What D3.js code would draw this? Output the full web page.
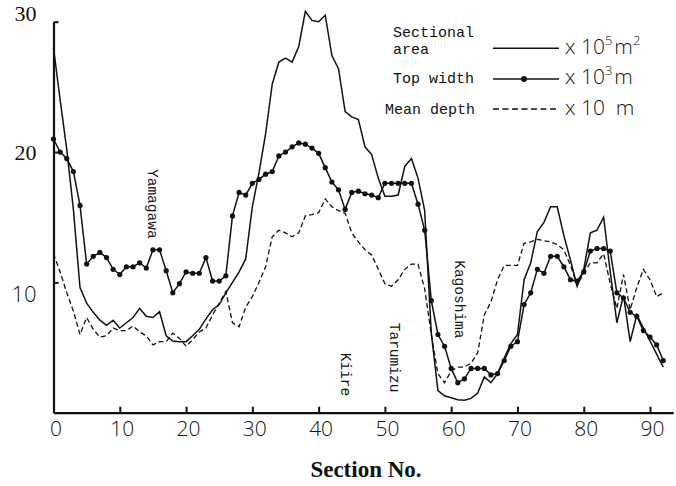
<!DOCTYPE html>
<html>
<head>
<meta charset="utf-8">
<script src="https://cdn.jsdelivr.net/npm/d3@7"></script>
<style>
  html, body { margin: 0; padding: 0; background: #fff; }
  svg { display: block; }
</style>
</head>
<body>
<svg id="chart" width="676" height="486"></svg>
<script>
// ---- Data (section numbers 0..92) ----
const sections = d3.range(0, 93);

// Sectional area (x 10^5 m^2) — solid line
const sectionalArea = [
  28.0, 24.0, 20.2, 15.6, 9.6, 8.4, 7.7, 7.1, 6.7, 7.1,
  6.5, 6.9, 7.3, 8.0, 7.4, 7.3, 7.75, 5.9, 5.5, 5.45,
  5.45, 5.9, 6.4, 7.2, 7.9, 8.3, 9.2, 10.0, 10.8, 11.8,
  15.8, 18.4, 21.4, 25.2, 26.9, 27.2, 26.9, 28.1, 30.8, 30.1,
  30.0, 30.5, 27.4, 26.4, 23.1, 22.7, 22.5, 20.4, 19.8, 18.0,
  16.6, 16.6, 16.7, 18.9, 19.5, 18.0, 15.5, 6.1, 1.7, 1.3,
  1.15, 1.0, 0.95, 1.1, 1.5, 2.75, 2.3, 3.0, 4.2, 5.3,
  6.0, 10.2, 11.5, 13.9, 14.6, 15.8, 15.8, 13.6, 11.7, 9.7,
  11.0, 13.8, 14.0, 15.0, 10.8, 6.9, 9.0, 5.45, 7.5, 6.5,
  5.5, 4.5, 3.5
];

// Top width (x 10^3 m) — line with dots
const topWidth = [
  21.0, 20.0, 19.5, 18.5, 15.9, 11.4, 12.0, 12.3, 11.9, 11.0,
  10.6, 11.2, 11.2, 11.5, 11.1, 12.5, 12.5, 10.9, 9.2, 9.9,
  10.8, 10.7, 10.7, 11.9, 10.1, 10.1, 10.5, 15.1, 16.9, 16.7,
  17.6, 17.9, 18.3, 18.5, 19.7, 20.0, 20.4, 20.7, 20.6, 20.3,
  19.9, 18.8, 17.7, 17.1, 15.6, 16.9, 17.0, 16.8, 16.7, 16.5,
  17.6, 17.6, 17.6, 17.6, 17.6, 16.0, 14.0, 8.6, 6.0, 5.1,
  3.4, 2.3, 2.6, 3.4, 3.4, 3.4, 2.9, 3.0, 4.0, 5.1,
  5.45, 8.3, 9.2, 11.0, 10.7, 12.0, 12.0, 11.2, 10.2, 10.1,
  10.8, 12.4, 12.6, 12.6, 12.4, 9.2, 8.8, 7.7, 7.4, 6.3,
  5.8, 5.2, 4.0
];

// Mean depth (x 10 m) — dashed line
const meanDepth = [
  12.2, 10.8, 9.2, 7.8, 6.0, 7.3, 6.4, 5.8, 5.9, 6.5,
  6.3, 6.3, 6.65, 6.2, 5.9, 5.2, 5.45, 5.45, 6.1, 5.7,
  5.1, 5.6, 6.2, 6.5, 7.5, 8.4, 9.3, 6.9, 6.6, 8.1,
  8.9, 10.0, 11.2, 13.5, 14.0, 13.8, 13.5, 13.8, 15.1, 15.2,
  15.35, 16.4, 15.8, 15.5, 15.3, 13.8, 13.1, 12.5, 12.1, 11.0,
  9.9, 9.7, 10.2, 11.0, 11.4, 11.4, 9.5, 6.0, 3.0, 2.3,
  3.2, 3.5, 3.5, 3.8, 4.6, 7.5, 8.5, 10.2, 11.3, 11.3,
  11.3, 13.0, 13.1, 13.3, 13.2, 13.1, 12.9, 12.5, 11.3, 9.8,
  10.7, 11.5, 11.5, 12.2, 9.9, 8.0, 10.6, 7.9, 9.6, 11.0,
  10.2, 8.9, 9.2
];

const xTicks = [0, 10, 20, 30, 40, 50, 60, 70, 80, 90];
const yTicks = [10, 20, 30];
const xTitle = "Section No.";

const places = [
  { name: "Yamagawa", section: 14.2, value: 18.7 },
  { name: "Kiire", section: 43.4, value: 4.6 },
  { name: "Tarumizu", section: 50.8, value: 6.9 },
  { name: "Kagoshima", section: 60.6, value: 11.7 }
];

// ---- Drawing ----
const svg = d3.select("#chart");
const x = d3.scaleLinear().domain([0, 93.5]).range([53.5, 53.5 + 93.5 * 6.628]);
const y = d3.scaleLinear().domain([0, 30]).range([412.7, 21.7]);
const lightSans = "'Open Sans', 'DejaVu Sans', sans-serif";

// X axis
const xAxis = svg.append("g")
  .attr("transform", `translate(0,${y(0)})`)
  .call(d3.axisBottom(x).tickValues(xTicks).tickSizeInner(-6).tickSizeOuter(0).tickPadding(8));
xAxis.select(".domain").attr("stroke", "#111").attr("stroke-width", 2.2);
xAxis.selectAll(".tick line").attr("stroke", "#111").attr("stroke-width", 2);
xAxis.selectAll(".tick text")
  .attr("font-family", lightSans)
  .attr("font-weight", 300)
  .attr("font-size", 21)
  .attr("dx", 2)
  .attr("fill", "#111");

// Y axis
const yAxis = svg.append("g")
  .attr("transform", `translate(${x(0)},0)`)
  .call(d3.axisLeft(y).tickValues(yTicks).tickSizeInner(-5).tickSizeOuter(0).tickPadding(17));
yAxis.select(".domain").attr("stroke", "#111").attr("stroke-width", 2.2);
yAxis.selectAll(".tick line").attr("stroke", "#111").attr("stroke-width", 2);
yAxis.selectAll(".tick text")
  .attr("fill", "#111")
  .attr("font-size", d => d === 10 ? 22 : 22)
  .attr("font-family", d => d === 10 ? lightSans : "'Liberation Serif', 'DejaVu Serif', serif")
  .attr("font-weight", d => d === 10 ? 300 : 400)
  .attr("dy", d => d === 30 ? "-0.05em" : d === 10 ? "0.85em" : "0.32em");

// Lines
const lineGen = vals => d3.line()
  .x((d, i) => x(sections[i]))
  .y(d => y(d))(vals);

svg.append("path")
  .attr("d", lineGen(meanDepth))
  .attr("fill", "none")
  .attr("stroke", "#111")
  .attr("stroke-width", 1.3)
  .attr("stroke-dasharray", "5,3");

svg.append("path")
  .attr("d", lineGen(sectionalArea))
  .attr("fill", "none")
  .attr("stroke", "#111")
  .attr("stroke-width", 1.5)
  .attr("stroke-linejoin", "miter");

svg.append("path")
  .attr("d", lineGen(topWidth))
  .attr("fill", "none")
  .attr("stroke", "#111")
  .attr("stroke-width", 1.5);

svg.append("g").selectAll("circle")
  .data(topWidth)
  .join("circle")
  .attr("cx", (d, i) => x(sections[i]))
  .attr("cy", d => y(d))
  .attr("r", 2.6)
  .attr("fill", "#111");

// Place labels (rotated)
svg.append("g").selectAll("text")
  .data(places)
  .join("text")
  .attr("transform", d => `translate(${x(d.section)},${y(d.value)}) rotate(90)`)
  .attr("font-family", "'Liberation Mono', 'DejaVu Sans Mono', monospace")
  .attr("font-size", 14.5)
  .attr("fill", "#111")
  .text(d => d.name);

// X axis title
svg.append("text")
  .attr("x", 366)
  .attr("y", 477)
  .attr("text-anchor", "middle")
  .attr("font-family", "'Liberation Serif', 'DejaVu Serif', serif")
  .attr("font-weight", "bold")
  .attr("font-size", 23)
  .attr("fill", "#111")
  .text(xTitle);

// Legend
const legend = svg.append("g");
const mono = "'Liberation Mono', 'DejaVu Sans Mono', monospace";
const legendRows = [
  { labels: ["Sectional", "area"], labelY: [37, 54], lineY: 48.3, kind: "solid", unit: ["x 10", "5", "m", "2"], unitY: 54 },
  { labels: ["Top width"], labelY: [83], lineY: 79, kind: "dot", unit: ["x 10", "3", "m", ""], unitY: 84 },
  { labels: ["Mean depth"], labelY: [114], lineY: 109, kind: "dash", unit: ["x 10", "", "\u00a0\u00a0m", ""], unitY: 115 }
];
legendRows.forEach(r => {
  r.labels.forEach((t, k) => {
    legend.append("text")
      .attr("x", r.kind === "dash" ? 385 : 393)
      .attr("y", r.labelY[k])
      .attr("font-family", mono)
      .attr("font-size", 15)
      .attr("fill", "#111")
      .text(t);
  });
  const ln = legend.append("line")
    .attr("x1", 493).attr("x2", 559)
    .attr("y1", r.lineY).attr("y2", r.lineY)
    .attr("stroke", "#111").attr("stroke-width", 1.5);
  if (r.kind === "dash") ln.attr("stroke-dasharray", "6,3.5").attr("stroke-width", 1.4);
  if (r.kind === "dot") {
    legend.append("circle").attr("cx", 524).attr("cy", r.lineY).attr("r", 3).attr("fill", "#111");
  }
  const t = legend.append("text")
    .attr("x", 565)
    .attr("y", r.unitY)
    .attr("font-family", lightSans)
    .attr("font-weight", 300)
    .attr("font-size", 21)
    .attr("fill", "#111");
  t.append("tspan").text(r.unit[0]);
  if (r.unit[1]) t.append("tspan").attr("dy", -9).attr("font-size", 13).text(r.unit[1]);
  t.append("tspan").attr("dy", r.unit[1] ? 9 : 0).attr("dx", r.unit[1] ? 2 : 0).text(r.unit[2]);
  if (r.unit[3]) t.append("tspan").attr("dy", -9).attr("font-size", 13).text(r.unit[3]);
});
</script>
</body>
</html>
